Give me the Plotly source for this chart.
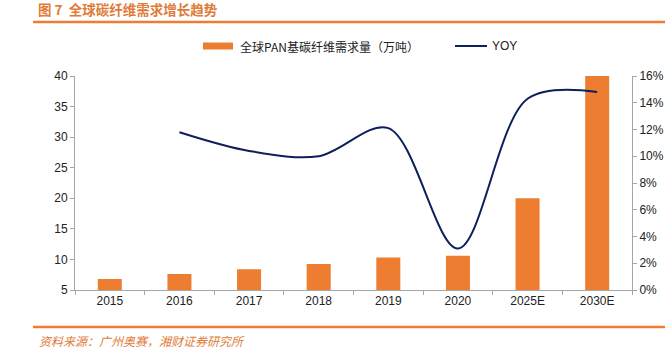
import plotly.graph_objects as go

categories = ["2015", "2016", "2017", "2018", "2019", "2020", "2025E", "2030E"]
demand = [6.8, 7.6, 8.4, 9.25, 10.3, 10.6, 20.0, 40.0]
yoy = [None, 0.118, 0.104, 0.100, 0.121, 0.031, 0.143, 0.148]

left_ticks = [5, 10, 15, 20, 25, 30, 35, 40]
right_ticks = [0, 0.02, 0.04, 0.06, 0.08, 0.10, 0.12, 0.14, 0.16]

ORANGE = "#ED7D31"
NAVY = "#0D1F5C"
TITLE_ORANGE = "#E07B39"
FONT = "Liberation Sans, Arial, sans-serif"
CJK = "Noto Sans CJK SC, sans-serif"

# plot area in pixels
L, R, T, B = 75, 632, 76, 290
W, H = R - L, B - T


def px(x):
    return (x - L) / W


def py(y):
    return (B - y) / H


fig = go.Figure()
fig.add_trace(go.Bar(x=categories, y=demand, marker=dict(color=ORANGE, line=dict(width=0)),
                     name="全球PAN基碳纤维需求量（万吨）", showlegend=False))
fig.add_trace(go.Scatter(x=categories, y=yoy, yaxis="y2", mode="lines",
                         line=dict(color=NAVY, width=2, shape="spline", smoothing=0.95),
                         name="YOY", showlegend=False, connectgaps=False))

fig.update_layout(
    width=671, height=355,
    margin=dict(l=L, r=671 - R, t=T, b=355 - B, pad=0, autoexpand=False),
    paper_bgcolor="white", plot_bgcolor="white",
    bargap=0.655,
    font=dict(family=FONT, size=12, color="#222"),
    xaxis=dict(type="category", showline=True, linecolor="#A6A6A6", linewidth=1,
               ticks="outside", ticklen=4, tickcolor="#A6A6A6", tickson="boundaries",
               showgrid=False, automargin=False, tickfont=dict(size=12, family=FONT, color="#222")),
    yaxis=dict(range=[5, 40], tickvals=left_ticks, showline=True, linecolor="#A6A6A6",
               ticks="outside", ticklen=4, tickcolor="#A6A6A6", showgrid=False, zeroline=False,
               automargin=False, tickfont=dict(size=12, family=FONT, color="#222")),
    yaxis2=dict(range=[0, 0.16], tickvals=right_ticks, tickformat=".0%", overlaying="y", side="right",
                showline=True, linecolor="#A6A6A6", ticks="outside", ticklen=4, tickcolor="#A6A6A6",
                showgrid=False, zeroline=False, automargin=False,
                tickfont=dict(size=12, family=FONT, color="#222")),
    title=dict(text="<b>图 7  全球碳纤维需求增长趋势</b>", xref="container", yref="container",
               x=38 / 671, y=1 - 10.5 / 355, xanchor="left", yanchor="middle",
               font=dict(family=CJK, size=13.5, color=TITLE_ORANGE)),
)

shapes = [
    dict(type="line", xref="paper", yref="paper", x0=px(33), x1=px(665), y0=py(22), y1=py(22),
         line=dict(color=ORANGE, width=2.5)),
    dict(type="line", xref="paper", yref="paper", x0=px(33), x1=px(665), y0=py(327), y1=py(327),
         line=dict(color=ORANGE, width=2.5)),
    dict(type="rect", xref="paper", yref="paper", x0=px(203), x1=px(233), y0=py(49.5), y1=py(42.5),
         fillcolor=ORANGE, line=dict(width=0)),
    dict(type="line", xref="paper", yref="paper", x0=px(455), x1=px(487), y0=py(46), y1=py(46),
         line=dict(color=NAVY, width=2)),
]
fig.update_layout(shapes=shapes)

fig.add_annotation(xref="paper", yref="paper", x=px(238), y=py(46), xanchor="left", yanchor="middle",
                   text="全球PAN基碳纤维需求量（万吨）", showarrow=False,
                   font=dict(family=CJK, size=12, color="#222"))
fig.add_annotation(xref="paper", yref="paper", x=px(490), y=py(46), xanchor="left", yanchor="middle",
                   text="YOY", showarrow=False, font=dict(family=FONT, size=12, color="#222"))
fig.add_annotation(xref="paper", yref="paper", x=px(37), y=py(340), xanchor="left", yanchor="middle",
                   text="<i>资料来源：广州奥赛，湘财证券研究所</i>", showarrow=False,
                   font=dict(family=CJK, size=12, color=TITLE_ORANGE))

fig.write_html("out.html", config={"displayModeBar": False},
               post_script="document.body.style.margin='0';document.body.style.overflow='hidden';")
